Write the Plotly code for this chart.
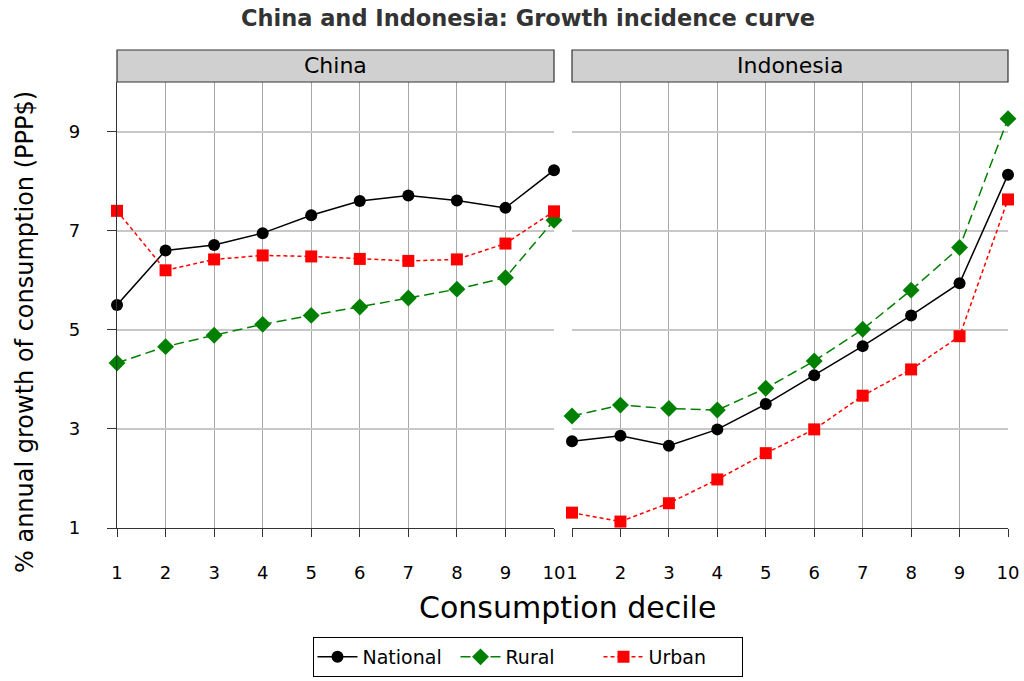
import plotly.graph_objects as go

deciles = [1, 2, 3, 4, 5, 6, 7, 8, 9, 10]
countries = ["China", "Indonesia"]

china_national = [5.50, 6.60, 6.71, 6.95, 7.31, 7.60, 7.71, 7.61, 7.46, 8.22]
china_rural = [4.33, 4.66, 4.89, 5.11, 5.29, 5.46, 5.64, 5.82, 6.05, 7.21]
china_urban = [7.40, 6.20, 6.42, 6.50, 6.48, 6.43, 6.39, 6.42, 6.74, 7.39]

indo_national = [2.75, 2.86, 2.66, 2.99, 3.50, 4.08, 4.67, 5.29, 5.94, 8.13]
indo_rural = [3.26, 3.48, 3.41, 3.38, 3.82, 4.37, 5.01, 5.80, 6.66, 9.26]
indo_urban = [1.31, 1.13, 1.50, 1.98, 2.51, 2.99, 3.67, 4.20, 4.87, 7.63]

y_ticks = [1, 3, 5, 7, 9]

series = [
    ("National", "black", "circle", "solid", 12),
    ("Rural", "green", "diamond", "10px,5px", 13),
    ("Urban", "red", "square", "4px,3px", 12),
]
data = {
    "China": [china_national, china_rural, china_urban],
    "Indonesia": [indo_national, indo_rural, indo_urban],
}

FONT = "DejaVu Sans, sans-serif"
fig = go.Figure()

for ci, c in enumerate(countries):
    xa = "x" if ci == 0 else "x2"
    ya = "y" if ci == 0 else "y2"
    for si, (name, col, sym, dash, msz) in enumerate(series):
        fig.add_trace(go.Scatter(
            x=deciles, y=data[c][si], name=name, xaxis=xa, yaxis=ya,
            mode="lines+markers", showlegend=(ci == 0), legendgroup=name,
            line=dict(color=col, width=1.5, dash=dash),
            marker=dict(color=col, symbol=sym, size=msz),
            cliponaxis=False,
        ))

W, H = 1024, 681
L = 117
R = W - 1008
T = 82
B = H - 528
pw = W - L - R
ph = H - T - B


def px(xs):
    return (xs - L) / pw


def py(ys):
    return (528 - ys) / ph


d1 = px(554)
d2 = px(572)

common_x = dict(range=[1, 10], tickmode="array", tickvals=deciles, ticktext=[str(d) for d in deciles],
                showgrid=True, gridcolor="#a8a8a8", gridwidth=1, zeroline=False,
                showline=True, linecolor="#333333", linewidth=1.2, ticks="outside", ticklen=8,
                tickcolor="#333333", ticklabelstandoff=20,
                tickfont=dict(size=18, color="black", family=FONT))
common_y = dict(range=[1, 10], tickmode="array", tickvals=y_ticks, showgrid=True,
                gridcolor="#c8c8c8", gridwidth=1.5, zeroline=False)

fig.update_layout(
    width=W, height=H,
    margin=dict(l=L, r=R, t=T, b=B, autoexpand=False),
    paper_bgcolor="white", plot_bgcolor="white",
    font=dict(family=FONT, color="black"),
    title=dict(text="<b>China and Indonesia: Growth incidence curve</b>", x=528 / W,
               xanchor="center", y=1 - 18 / H, yanchor="middle",
               font=dict(size=22.5, color="#333333", family=FONT)),
    xaxis=dict(domain=[0, d1], anchor="y", **common_x),
    xaxis2=dict(domain=[d2, 1], anchor="y2", **common_x),
    yaxis=dict(domain=[0, 1], anchor="x", showline=True, linecolor="#333333", linewidth=1.2,
               ticks="outside", ticklen=9, tickcolor="#333333", ticklabelstandoff=23,
               tickfont=dict(size=18, color="black", family=FONT), **common_y),
    yaxis2=dict(domain=[0, 1], anchor="x2", showticklabels=False, showline=False, ticks="", **common_y),
    legend=dict(orientation="h", x=px(527.5), xanchor="center", y=py(637), yanchor="top",
                bordercolor="black", borderwidth=1, font=dict(size=19, family=FONT),
                itemwidth=40, entrywidth=88, tracegroupgap=0),
)

# strips
sy0 = 1.0
sy1 = 1 + (82 - 50) / ph
for (x0, x1, name) in [(0, d1, "China"), (d2, 1, "Indonesia")]:
    fig.add_shape(type="rect", xref="paper", yref="paper", x0=x0, x1=x1, y0=sy0, y1=sy1,
                  fillcolor="#d0d0d0", line=dict(color="#333333", width=1.2))
    fig.add_annotation(xref="paper", yref="paper", x=(x0 + x1) / 2, y=(sy0 + sy1) / 2,
                       text=name, showarrow=False, font=dict(size=22, color="black", family=FONT),
                       xanchor="center", yanchor="middle")

fig.add_annotation(xref="paper", yref="paper", x=px(567), y=py(607),
                   text="Consumption decile", showarrow=False, xanchor="center", yanchor="middle",
                   font=dict(size=30, color="black", family=FONT))
fig.add_annotation(xref="paper", yref="paper", x=px(25), y=py(332),
                   text="% annual growth of consumption (PPP$)", showarrow=False, textangle=-90,
                   xanchor="center", yanchor="middle", font=dict(size=24, color="black", family=FONT))

fig.write_html("out.html", config={"displayModeBar": False},
               post_script="document.body.style.margin='0px';document.body.style.overflow='hidden';")
